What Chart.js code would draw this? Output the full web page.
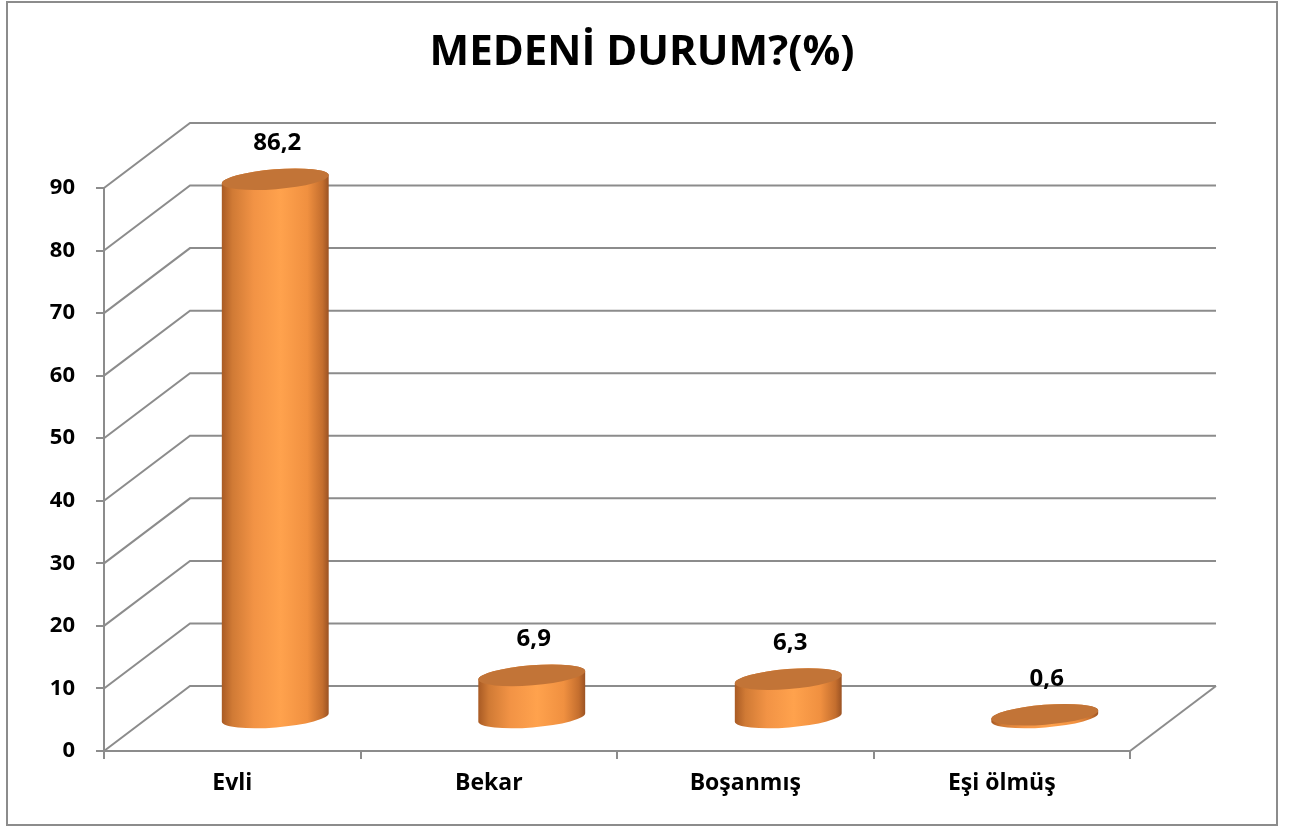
<!DOCTYPE html>
<html lang="tr">
<head>
  <meta charset="UTF-8">
  <title>Medeni Durum</title>
  <script src="https://cdn.jsdelivr.net/npm/chart.js"></script>
  <style>
    html, body { margin: 0; padding: 0; background: #fff; }
    canvas { display: block; }
  </style>
</head>
<body>
  <canvas id="chart" width="1293" height="827"></canvas>

  <script>
    // data
    const categories = ['Evli', 'Bekar', 'Boşanmış', 'Eşi ölmüş'];
    const percents = [86.2, 6.9, 6.3, 0.6];
    const yTicks = [0, 10, 20, 30, 40, 50, 60, 70, 80, 90];
    const title = 'MEDENİ DURUM?(%)';

    const FONT = '"Open Sans", Lato, sans-serif';
    const GRID = '#8c8c8c';
    const DEPTH_X = 86, DEPTH_Y = -65;   // 3D wall offset

    // fake 3D: back wall grid, floor, cylinders and value labels
    const excel3d = {
      id: 'excel3d',
      beforeDraw(chart) {
        const ctx = chart.ctx;
        ctx.save();
        ctx.fillStyle = '#fff';
        ctx.fillRect(0, 0, chart.width, chart.height);
        ctx.strokeStyle = GRID;
        ctx.lineWidth = 2;
        ctx.strokeRect(7, 2, 1270, 823);
        // title, centred on the whole frame
        ctx.fillStyle = '#000';
        ctx.font = 'bold 42px ' + FONT;
        ctx.textAlign = 'center';
        ctx.textBaseline = 'middle';
        ctx.fillText(title, 642, 53);
        ctx.restore();
      },
      beforeDatasetsDraw(chart) {
        const ctx = chart.ctx, y = chart.scales.y, a = chart.chartArea;
        ctx.save();
        ctx.strokeStyle = GRID;
        ctx.lineWidth = 2;
        yTicks.forEach(v => {
          const py = y.getPixelForValue(v);
          ctx.beginPath();
          ctx.moveTo(a.left, py);
          ctx.lineTo(a.left + DEPTH_X, py + DEPTH_Y);
          ctx.lineTo(a.right + DEPTH_X, py + DEPTH_Y);
          ctx.stroke();
        });
        const p0 = y.getPixelForValue(0);
        ctx.beginPath();
        ctx.moveTo(a.right, p0);
        ctx.lineTo(a.right + DEPTH_X, p0 + DEPTH_Y);
        ctx.stroke();
        ctx.restore();
      },
      afterDatasetsDraw(chart) {
        const ctx = chart.ctx;
        const meta = chart.getDatasetMeta(0);
        const rot = -0.08;
        meta.data.forEach((bar, i) => {
          const cx = bar.x + DEPTH_X / 2;
          const topY = bar.y + DEPTH_Y / 2;
          const baseY = bar.base + DEPTH_Y / 2;
          const rx = bar.width / 2, ry = 10;
          const c = Math.cos(rot), s = Math.sin(rot);

          ctx.save();
          const g = ctx.createLinearGradient(cx - rx, 0, cx + rx, 0);
          g.addColorStop(0, '#a85a24');
          g.addColorStop(0.1, '#d07a35');
          g.addColorStop(0.3, '#f29345');
          g.addColorStop(0.55, '#ffa24d');
          g.addColorStop(0.8, '#f09040');
          g.addColorStop(0.94, '#c46e2e');
          g.addColorStop(1, '#9a5223');

          ctx.beginPath();
          ctx.moveTo(cx - rx * c, topY - rx * s);
          ctx.lineTo(cx - rx * c, baseY - rx * s);
          ctx.ellipse(cx, baseY, rx, ry, rot, Math.PI, 0, true);
          ctx.lineTo(cx + rx * c, topY + rx * s);
          ctx.ellipse(cx, topY, rx, ry, rot, 0, Math.PI, true);
          ctx.closePath();
          ctx.fillStyle = g;
          ctx.fill();

          ctx.beginPath();
          ctx.ellipse(cx, topY, rx, ry, rot, 0, Math.PI * 2);
          ctx.fillStyle = '#c27437';
          ctx.fill();

          ctx.fillStyle = '#000';
          ctx.font = 'bold 24px ' + FONT;
          ctx.textAlign = 'center';
          ctx.textBaseline = 'middle';
          ctx.fillText(String(percents[i]).replace('.', ','), cx + 2, topY - 36);
          ctx.restore();
        });
      }
    };

    new Chart(document.getElementById('chart'), {
      type: 'bar',
      data: {
        labels: categories,
        datasets: [{
          data: percents,
          backgroundColor: 'rgba(0,0,0,0)',
          borderWidth: 0,
          categoryPercentage: 1,
          barPercentage: 0.418
        }]
      },
      options: {
        responsive: false,
        animation: false,
        layout: { padding: { left: 0, right: 163, top: 188, bottom: 0 } },
        plugins: {
          legend: { display: false },
          tooltip: { enabled: false },
          title: { display: false }
        },
        scales: {
          y: {
            min: 0,
            max: 90,
            afterFit(scale) { scale.width = 104; },
            ticks: {
              stepSize: 10,
              color: '#000',
              padding: 21,
              font: { family: FONT, size: 22, weight: 'bold' }
            },
            grid: { drawOnChartArea: false, color: GRID, lineWidth: 2, tickLength: 8 },
            border: { color: GRID, width: 2 }
          },
          x: {
            afterFit(scale) { scale.height = 76; },
            ticks: {
              color: '#000',
              padding: 11,
              font: { family: FONT, size: 23, weight: 'bold' }
            },
            grid: { drawOnChartArea: false, offset: true, color: GRID, lineWidth: 2, tickLength: 8 },
            border: { color: GRID, width: 2 }
          }
        }
      },
      plugins: [excel3d]
    });
  </script>
</body>
</html>
